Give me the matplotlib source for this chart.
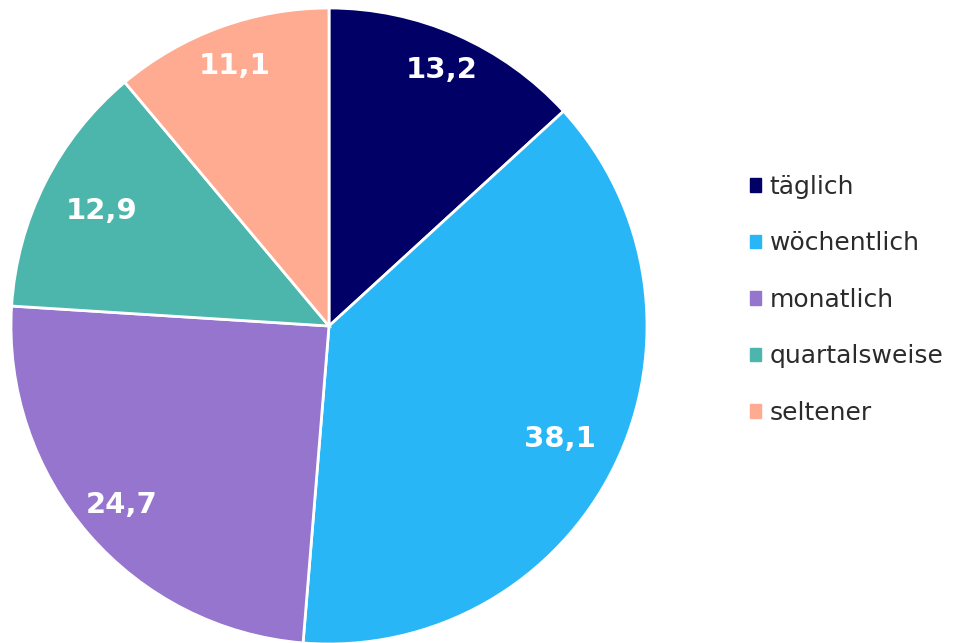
import numpy as np
import matplotlib.pyplot as plt

categories = ['täglich', 'wöchentlich', 'monatlich', 'quartalsweise', 'seltener']
values = [13.2, 38.1, 24.7, 12.9, 11.1]
value_labels = ['13,2', '38,1', '24,7', '12,9', '11,1']

colors = ['#000066', '#29B6F6', '#9575CD', '#4DB6AC', '#FFAB91']
label_dist = [0.88, 0.81, 0.86, 0.80, 0.87]

fig = plt.figure(figsize=(9.67, 6.43), dpi=100)
r_px = 318
cx, cy = 329, 643 - 326
ax = fig.add_axes([(cx - r_px) / 967, (cy - r_px) / 643, 2 * r_px / 967, 2 * r_px / 643])

wedges, _ = ax.pie(values, colors=colors, startangle=90, counterclock=False,
                   radius=1.0, wedgeprops=dict(edgecolor='white', linewidth=2))
ax.set_xlim(-1, 1)
ax.set_ylim(-1, 1)
ax.set_aspect('equal')

for w, lab, d in zip(wedges, value_labels, label_dist):
    ang = np.deg2rad((w.theta1 + w.theta2) / 2)
    ax.text(d * np.cos(ang), d * np.sin(ang), lab, ha='center', va='center',
            color='white', fontsize=21, fontweight='bold')

handles = [plt.Rectangle((0, 0), 1, 1, color=c) for c in colors]
fig.legend(handles, categories, loc='center left', bbox_to_anchor=(727 / 967, 1 - 300 / 643),
           frameon=False, fontsize=18, handlelength=0.45, handleheight=0.45,
           handletextpad=0.35, labelspacing=1.3, labelcolor='#2b2b2b')

fig.savefig('out.png', dpi=100)
